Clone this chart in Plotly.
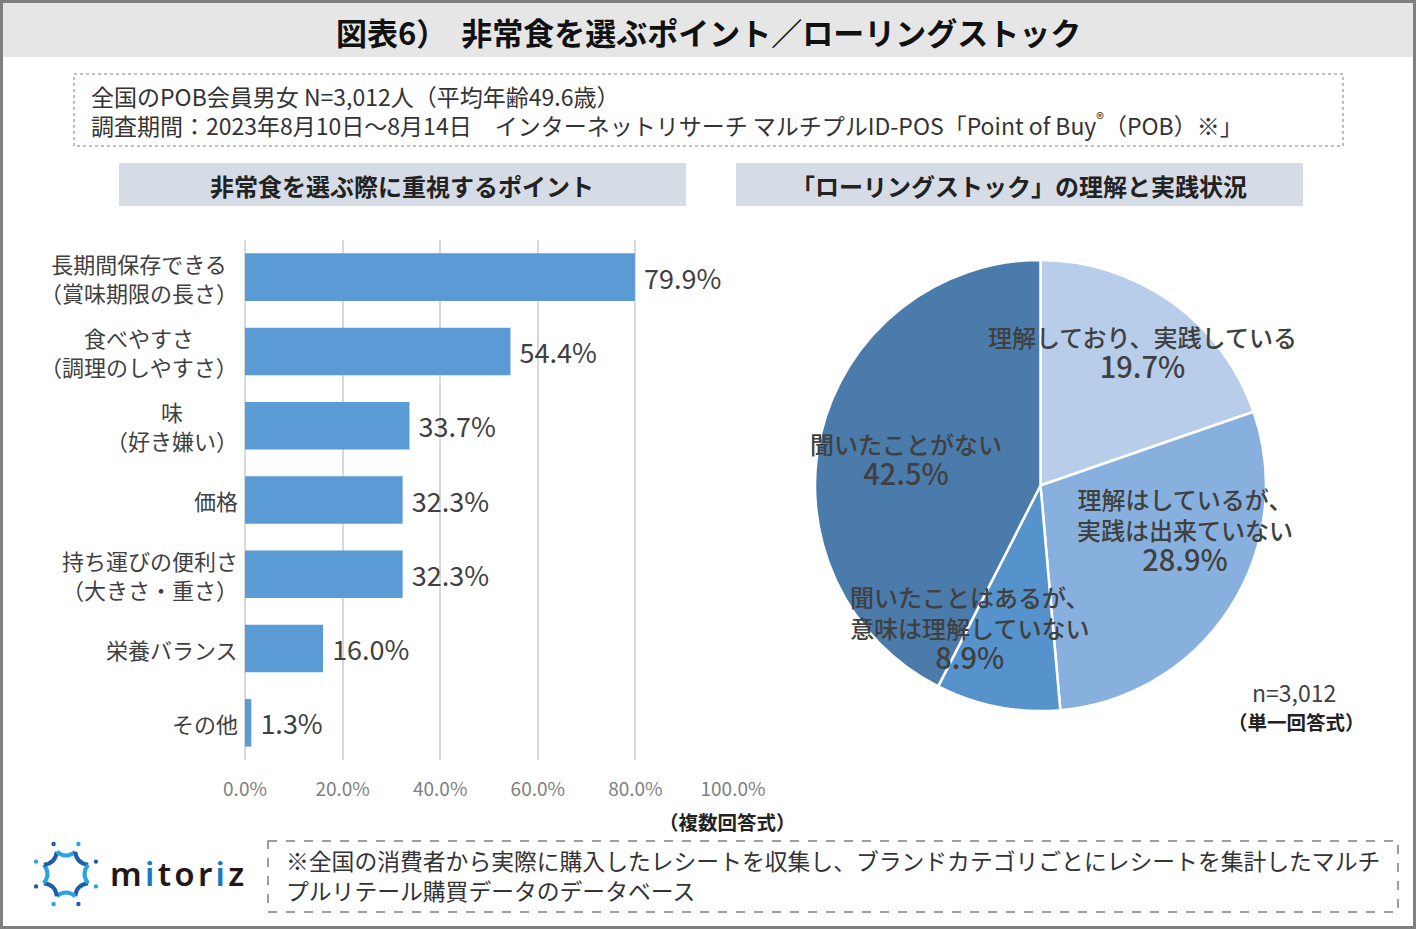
import math
import plotly.graph_objects as go

W, H = 1416, 929

# bar chart data
bar_labels = ["長期間保存できる<br>（賞味期限の長さ）", "食べやすさ<br>（調理のしやすさ）", "味<br>（好き嫌い）",
              "価格", "持ち運びの便利さ<br>（大きさ・重さ）", "栄養バランス", "その他"]
bar_values = [79.9, 54.4, 33.7, 32.3, 32.3, 16.0, 1.3]
x_ticks = [0, 20, 40, 60, 80, 100]

# pie chart data
pie_labels = ["理解しており、実践している", "理解はしているが、<br>実践は出来ていない",
              "聞いたことはあるが、<br>意味は理解していない", "聞いたことがない"]
pie_values = [19.7, 28.9, 8.9, 42.5]
pie_colors = ["#b7cde9", "#87b0de", "#5692cb", "#4a7bab"]

# label placement (pixels on the page)
pie_label_x = [1142, 1185, 970, 906]
pie_label_y = [352, 530, 628, 459]

JP = "Noto Sans CJK JP"
TXT = "#404040"


def X(p):
    return p / W


def Y(p):
    return 1 - p / H


fig = go.Figure()

fig.add_trace(go.Bar(
    x=bar_values, y=bar_labels, orientation="h",
    marker=dict(color="#5b9bd5", line=dict(width=0)),
    texttemplate="\u00a0%{x:.1f}%", textposition="outside",
    textfont=dict(family=JP, size=27, color=TXT),
    cliponaxis=False, hoverinfo="skip",
))

fig.add_trace(go.Pie(
    values=pie_values, labels=pie_labels, sort=False, direction="clockwise",
    rotation=0, marker=dict(colors=pie_colors, line=dict(color="white", width=2.5)),
    textinfo="none", hoverinfo="skip", showlegend=False,
    domain=dict(x=[X(815), X(1266)], y=[Y(711), Y(260)]),
))

annotations = []
# category labels (centred lines, right of axis)
for lab in bar_labels:
    annotations.append(dict(
        x=0, y=lab, xref="x", yref="y", xanchor="right", xshift=-5,
        text=lab, showarrow=False, align="center",
        font=dict(family=JP, size=22, color=TXT),
    ))

# pie labels
for lab, val, px, py in zip(pie_labels, pie_values, pie_label_x, pie_label_y):
    annotations.append(dict(
        x=X(px), y=Y(py), align="center",
        text=f"{lab}<br><span style='font-size:29px'>{val:.1f}%</span>",
        font=dict(family=JP, size=24, color=TXT, weight=500),
    ))

# text blocks
annotations += [
    dict(x=X(708), y=Y(32), text="<b>図表6）  非常食を選ぶポイント／ローリングストック</b>",
         font=dict(family=JP, size=31, color="#111111")),
    dict(x=X(89), y=Y(96), xanchor="left",
         text="全国のPOB会員男女 N=3,012人（平均年齢49.6歳）",
         font=dict(family=JP, size=23, color="#333333")),
    dict(x=X(89), y=Y(124), xanchor="left",
         text="調査期間：2023年8月10日～8月14日　インターネットリサーチ マルチプルID-POS「Point of Buy<sup>®</sup>（POB）※」",
         font=dict(family=JP, size=23, color="#333333")),
    dict(x=X(402), y=Y(185), text="<b>非常食を選ぶ際に重視するポイント</b>",
         font=dict(family=JP, size=24, color="#222222")),
    dict(x=X(1019), y=Y(185), text="<b>「ローリングストック」の理解と実践状況</b>",
         font=dict(family=JP, size=24, color="#222222")),
    dict(x=X(1294), y=Y(692), text="n=3,012",
         font=dict(family=JP, size=23, color=TXT)),
    dict(x=X(1296), y=Y(721), text="<b>（単一回答式）</b>",
         font=dict(family=JP, size=19.5, color="#222222")),
    dict(x=X(727), y=Y(821), text="<b>（複数回答式）</b>",
         font=dict(family=JP, size=19.5, color="#222222")),
    dict(x=X(284), y=Y(875), xanchor="left", align="left",
         text="※全国の消費者から実際に購入したレシートを収集し、ブランドカテゴリごとにレシートを集計したマルチ<br>プルリテール購買データのデータベース",
         font=dict(family=JP, size=22.8, color="#333333")),
    dict(x=X(108), y=Y(873), xanchor="left",
         text="m\u200a<span style='color:#1a78c2'>i</span>\u200at\u200ao\u200ar\u200a<span style='color:#1a78c2'>i</span>\u200az",
         font=dict(family="Noto Sans", size=33, color="#231815", weight=600)),
]
for a in annotations:
    a.setdefault("xref", "paper")
    a.setdefault("yref", "paper")
    a.setdefault("showarrow", False)
    a.setdefault("xanchor", "center")
    a.setdefault("yanchor", "middle")

shapes = [
    dict(type="rect", x0=X(3), x1=X(1413), y0=Y(3), y1=Y(57), fillcolor="#e7e6e6",
         line=dict(width=0), layer="below"),
    dict(type="rect", x0=X(1.5), x1=X(1414.5), y0=Y(1.5), y1=Y(927.5),
         line=dict(color="#7f7f7f", width=3), layer="above"),
    dict(type="rect", x0=X(74), x1=X(1343), y0=Y(74), y1=Y(146),
         line=dict(color="#7f7f7f", width=1, dash="dot"), layer="below"),
    dict(type="rect", x0=X(119), x1=X(686), y0=Y(163), y1=Y(206), fillcolor="#d6dce5",
         line=dict(width=0), layer="below"),
    dict(type="rect", x0=X(736), x1=X(1303), y0=Y(163), y1=Y(206), fillcolor="#d6dce5",
         line=dict(width=0), layer="below"),
    dict(type="rect", x0=X(268), x1=X(1398), y0=Y(841), y1=Y(912),
         line=dict(color="#7f7f7f", width=1.5, dash="dash"), layer="below"),
]

# logo mark: eight concave arcs with dots
cx, cy, r = 66, 874, 24
pts = []
for k in range(8):
    ang = math.radians(22.5 + 45 * k)
    pts.append((cx + r * math.cos(ang), cy + r * math.sin(ang)))
for k in range(8):
    (x0, y0), (x1, y1) = pts[k], pts[(k + 1) % 8]
    mid = math.radians(45 + 45 * k)
    qx, qy = cx + 0.62 * r * math.cos(mid), cy + 0.62 * r * math.sin(mid)
    col = "#1c5ea9" if k % 2 == 0 else "#2aa4df"
    shapes.append(dict(type="path",
                       path=f"M {X(x0)},{Y(y0)} Q {X(qx)},{Y(qy)} {X(x1)},{Y(y1)}",
                       line=dict(color=col, width=4)))
    dang = math.radians(22.5 + 45 * k)
    dx, dy = cx + 1.35 * r * math.cos(dang), cy + 1.35 * r * math.sin(dang)
    dcol = "#2aa4df" if k % 2 == 0 else "#1c5ea9"
    shapes.append(dict(type="circle",
                       x0=X(dx - 2.2), x1=X(dx + 2.2), y0=Y(dy - 2.2), y1=Y(dy + 2.2),
                       fillcolor=dcol, line=dict(width=0)))
for s in shapes:
    s["xref"] = "paper"
    s["yref"] = "paper"

fig.update_layout(
    width=W, height=H, margin=dict(l=0, r=0, t=0, b=0, autoexpand=False),
    paper_bgcolor="white", plot_bgcolor="white", showlegend=False,
    bargap=0.36,
    xaxis=dict(domain=[X(245), X(733)], range=[0, 100], tickvals=x_ticks,
               ticktext=[f"{v:.1f}%" for v in x_ticks],
               tickfont=dict(family=JP, size=19, color="#808080"),
               showgrid=True, gridcolor="#d9d9d9", gridwidth=2,
               zeroline=True, zerolinecolor="#d9d9d9", zerolinewidth=2,
               showline=False, ticks="", ticklabelstandoff=16, fixedrange=True,
               automargin=False),
    yaxis=dict(domain=[Y(760), Y(240)], autorange="reversed", showticklabels=False,
               showgrid=False, zeroline=False, showline=False, ticks="", fixedrange=True,
               automargin=False),
    annotations=annotations, shapes=shapes,
)

fig.write_html("out.html", config={"displayModeBar": False},
               post_script="document.body.style.margin='0';")
